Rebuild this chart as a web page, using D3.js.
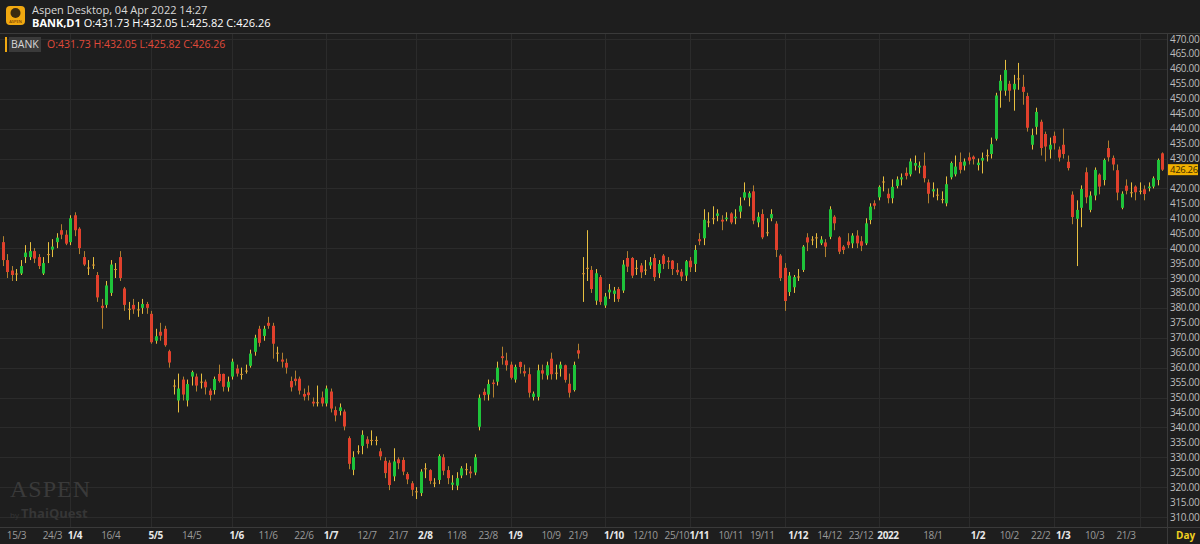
<!DOCTYPE html>
<html><head><meta charset="utf-8">
<script src="https://cdn.jsdelivr.net/npm/d3@7"></script>
<style>body{margin:0;background:#1e1e1e;overflow:hidden}svg{display:block}</style>
</head><body><svg id="c" width="1200" height="544"></svg>
<script>
// candles: [open, close, high, low]
const candles = [
[402,396,404,394],[396,392,398,390],[392.5,391,394,389],[391.5,391.5,393,389],[391.5,394,396,391],[397,398.5,401,395],[397,399,402,396],[399,396.5,400,395],[397,394,398,393],[391.5,395,397,391],[398,398,402,395],[399.5,400.5,403,397],[402,403.5,405,400],[406,404.5,408,403],[404.5,401.5,406,401],[402,410,411,401],[411,406,412,404],[406.5,400,407,398],[397,394.5,399,394],[393.5,393.5,396,391],[394.5,394.5,397,393],[391,383.5,392,382],[380.7,380,383,373],[381,387.5,389,380],[385,394.5,396,384],[393,393,395,390],[397,390,399,389],[386.5,381,387,379],[379.7,379.7,382,376],[381,379.5,383,378],[379.5,379.5,382,377],[380,381.3,383,378],[381.3,380,382,378],[378,368.5,379,368],[369,370.5,373,368],[372,370.7,375,369],[373,367.5,374,367],[365.5,361.7,366,360],[354,354,356,351],[349,353,358,345],[356,351,357,349],[349,354.5,356,347],[357,358.5,359,354],[357,354,358,352],
[355.3,355.3,358,353],[355.3,353.4,356,351],[352.3,350.8,353,349],[352.5,356.2,357,351],[357.9,355.5,361,355],[357.9,353.6,358,352],[353.4,355.3,357,352],[357,362,363,356],[359.7,358,361,357],[357.9,357.9,360,356],[359,359,361,358],[360.6,364.7,366,360],[365.3,370,371,364],[373,368.3,374,367],[370.6,373,374,369],[375,374,377,373],[374,368,375,363],[365,365,367,362],[362.7,362,365,360],[361.6,360,363,358],[355.5,353.4,357,352],[356.3,355.5,359,354],[356.3,352.3,357,351],[351.2,350.3,353,349],[351.7,350.8,354,349],[348.6,348,350,347],[348.4,348.4,354,347],[350,348,352,347],[348,353,354,347],[352,346.3,353,345],[345.8,344,347,342],[345.5,346.7,348,344],[345.3,340.3,346,339],[336.4,327.8,337,326],[325.8,330,332,324],[332,332,334,331],[333.8,337.5,339,331],[336,334.5,337,333],[335.8,335.8,339,334],[335.8,335.8,337,334],[332,330.3,333,329],[328.8,324.7,330,323],[328.2,320.7,329,319],[323.6,328.6,333,322],[329.3,328,330,326],
[329.1,325.2,330,324],[324.4,322.6,325,321],[321.3,319.1,322,317],[318.6,318.6,320,316],[318,325.2,326,317],[326.3,326.3,328,323],[325.7,322.1,326,321],[321.5,321.5,323,320],[322.4,330.4,331,321],[330,325.5,331,324],[325.7,323,327,321],[320.8,321.5,324,319],[320.5,323,325,319],[323.9,326.3,327,323],[326,326,328,324],[325.2,324.6,327,323],[324.9,330,331,324],[340.2,349.9,351,339],[351.9,350.8,353,349],[351,354.5,356,349],[355,354.5,356,350],[355.3,360,362,354],[363.8,363.2,367,361],[362.4,360.8,365,359],[361,356.6,362,356],[356,360.2,361,355],[361.9,360.2,362,358],[358.8,358.1,361,357],[357.8,351.6,360,350],[350.2,351.3,352,349],[350.2,359.1,361,349],[359.1,358,361,356],[357.4,360.8,362,356],[363,357.8,365,356],[358.3,358.3,361,356],[359.6,361,362,357],[360.8,355.9,361,355],[354.6,351.6,358,350],[352.5,360.9,362,352],[365.8,364.7,368,363],[391.6,391.6,397,382],[393.4,393.4,406,389],[392.7,386.3,394,385],[382.4,391.6,393,381],
[390.3,382,391,381],[380.8,383.8,385,380],[385.2,386.1,388,383],[384.7,385.8,387,382],[386.3,383,387,382],[385.8,394.5,396,385],[396.7,393.8,399,392],[396.7,390.8,397,390],[393.4,393.4,396,391],[394.2,391.9,395,390],[392.8,392.8,396,391],[394.2,395.3,397,393],[396.7,390.3,398,389],[391.6,394.7,396,390],[397.5,394.7,398,393],[395.8,395.3,397,393],[395.8,393,396,391],[392.7,391.9,395,391],[392.1,390.5,393,389],[390.8,395.6,396,389],[395.8,393.6,397,392],[394.7,399.4,401,392],[403,402.3,405,401],[403.3,409.5,413,401],[408.9,408.9,412,407],[410,410,414,408],[410.8,411.6,413,409],[409.5,408.9,411,406],[409.7,410.2,412,409],[411.6,408.6,412,408],[410,410.5,413,408],[412.2,414.2,417,410],[416.9,418.7,422,416],[416.9,418.4,419,414],[419,409.2,421,408],[408.6,410.5,412,407],[411.4,403.6,413,403],[405.3,405.3,410,404],[410,411.4,413,409],[408.2,399.4,409,397],[397.5,390,398,389],[393.4,382.3,395,379],[385.3,390.8,392,384],[386.9,390.3,391,385],[390.5,390.5,393,389],
[392.7,400.5,401,392],[403.6,401.9,405,399],[402.9,402.9,404,401],[403.6,403.6,405,400],[401.6,402.9,404,401],[401.9,400.5,403,397],[403.8,413,414,403],[410.5,408.3,411,406],[403.6,398.8,404,398],[400.5,399.4,401,398],[402.2,401,405,400],[401.6,404.2,405,400],[404.2,401.6,406,400],[402.3,400.8,404,399],[401.6,408.3,410,401],[409.4,413.9,415,408],[415,414.2,416,413],[417,420.5,421,416],[422.3,422.3,424,419],[418.2,416.7,420,415],[416.7,420.5,423,415],[420.8,423,424,420],[423,423.7,425,421],[425.2,424.2,427,423],[424.7,429,430,424],[427.6,428.5,431,426],[427,427.6,429,425],[427.6,423.4,432,422],[422,418.2,423,415],[419,419.7,422,417],[417.9,417.9,420,416],[416.4,416.4,419,415],[415,421.4,424,414],[423.7,428.5,429,423],[424.7,427.3,431,424],[428.8,426.2,432,425],[427.6,429,430,426],[430.4,429.3,432,428],[430.6,429.8,431,428],[427.8,428.6,430,426],
[429.3,430.2,432,425],[431.1,431.1,433,429],[431.5,434.8,437,430],[436.6,451.1,452,436],[452.7,456,458,447],[452.7,459.6,463,451],[455,452.7,456,449],[453.1,455,458,446],[456.8,456.8,462,453],[454,452.3,458,448],[450.9,440.3,452,439],[434.6,437.8,440,433],[440.6,445.6,447,438],[442.3,433.5,443,431],[438.2,434,439,429],[433,434.6,437,430],[437.6,435.1,439,433],[433,430.3,434,429],[434.6,431.5,440,430],[428.9,426.8,431,426],[417.9,410.4,419,408],[409.8,412.8,416,394],[413.5,419.8,421,407],[425.4,417,427,415],[412.8,417.6,419,412],[417.6,426.2,427,416],[424.6,420.6,425,418],[422.8,429.5,430,421],[433.5,430.4,436,429],[430.2,428,431,426],[426.1,418.6,428,416],[413.5,418.2,419,413],[420.9,419.2,423,418],[418.7,418.7,422,417],[420.6,418.7,421,416],[419.2,419.2,422,418],[419.7,418.1,421,416],[420.1,420.6,422,419],[420.6,423.4,424,420],[422.8,429.5,430,421],[431.73,426.26,432.05,425.82]
];
const tickLabels = ["15/3","24/3","1/4","16/4","5/5","14/5","1/6","11/6","22/6","1/7","12/7","21/7","2/8","11/8","23/8","1/9","10/9","21/9","1/10","12/10","25/10","1/11","10/11","19/11","1/12","14/12","23/12","2022","18/1","1/2","10/2","22/2","1/3","10/3","21/3"];
const tickIndex = [3,11,16,24,34,42,52,59,67,73,81,88,94,101,108,114,122,128,136,143,150,155,162,169,177,184,191,197,207,217,224,231,236,243,250];
const majorLabels = ["1/4","5/5","1/6","1/7","2/8","1/9","1/10","1/11","1/12","2022","1/2","1/3"];
const gridIndex = [15,33,51,72,92,113,134,153,174,195,215,234,253];
const priceTicks = d3.range(310,470.1,5);
const lastPrice = 426.26;

const svg = d3.select("#c");
const F = "'Open Sans', 'Noto Sans', sans-serif";
const x = d3.scaleLinear().domain([0,candles.length-1]).range([3,1162]);
const y = d3.scaleLinear().domain([310,470]).range([517,39]);
const plotR = 1167, plotT = 33, plotB = 527;

svg.append("rect").attr("width",1200).attr("height",544).attr("fill","#1e1e1e");
const g = svg.append("g");
g.selectAll(".hg").data(d3.range(310,470.1,10)).join("line")
 .attr("x1",0).attr("x2",plotR).attr("y1",d=>Math.round(y(d))+0.5).attr("y2",d=>Math.round(y(d))+0.5)
 .attr("stroke","#2b2b2b");
g.selectAll(".vg").data(gridIndex).join("line")
 .attr("x1",d=>Math.round(x(d))+0.5).attr("x2",d=>Math.round(x(d))+0.5).attr("y1",plotT).attr("y2",plotB)
 .attr("stroke","#2b2b2b");
svg.append("line").attr("x1",0).attr("x2",1200).attr("y1",plotT+0.5).attr("y2",plotT+0.5).attr("stroke","#3a3a3a");
svg.append("line").attr("x1",0).attr("x2",1200).attr("y1",plotB+0.5).attr("y2",plotB+0.5).attr("stroke","#3a3a3a");
svg.append("line").attr("x1",plotR+0.5).attr("x2",plotR+0.5).attr("y1",plotT).attr("y2",544).attr("stroke","#3a3a3a");

// watermark
svg.append("text").attr("x",10).attr("y",497).attr("font-family","Liberation Serif, serif").attr("font-size",24).attr("fill","#3a3a3a").attr("letter-spacing",1).text("ASPEN");
svg.append("text").attr("x",10).attr("y",518).attr("font-family",F).attr("fill","#363636").attr("font-size",13).attr("font-weight","bold")
 .html('<tspan font-size="8" font-weight="normal">by </tspan>ThaiQuest');

const cg = g.selectAll(".cd").data(candles).join("g");
cg.append("line").attr("x1",(d,i)=>Math.round(x(i))+0.5).attr("x2",(d,i)=>Math.round(x(i))+0.5)
 .attr("y1",d=>y(d[2])).attr("y2",d=>y(d[3])).attr("stroke",d=>d[1]>=d[0]?"#e8c040":"#b08030").attr("stroke-width",1);
cg.append("rect").attr("x",(d,i)=>Math.round(x(i))-1).attr("width",3)
 .attr("y",d=>y(Math.max(d[0],d[1]))).attr("height",d=>Math.max(1,Math.abs(y(d[0])-y(d[1]))))
 .attr("fill",d=>d[1]>d[0]?"#1ec43a":(d[1]<d[0]?"#e0402c":"#d08a30"));

svg.selectAll(".pt").data(priceTicks.filter(v=>Math.abs(v-lastPrice)>2.5)).join("text")
 .attr("x",1170).attr("y",d=>y(d)+3.5).attr("font-family",F).attr("font-size",10).attr("fill","#bdbdbd").attr("letter-spacing",-0.3)
 .text(d=>d.toFixed(2));
svg.append("rect").attr("x",1168).attr("y",y(lastPrice)-5.5).attr("width",30).attr("height",11).attr("fill","#f0b000");
svg.append("text").attr("x",1170).attr("y",y(lastPrice)+3.5).attr("font-family",F).attr("font-size",9.5).attr("fill","#3a2a00").attr("letter-spacing",-0.3).text(lastPrice.toFixed(2));

svg.selectAll(".tl").data(tickLabels).join("text")
 .attr("x",(d,i)=>x(tickIndex[i])).attr("y",539).attr("text-anchor","middle")
 .attr("font-family",F).attr("font-size",10).attr("letter-spacing",-0.4)
 .attr("font-weight",d=>majorLabels.includes(d)?"bold":"normal")
 .attr("fill",d=>majorLabels.includes(d)?"#e8e8e8":"#9a9a9a").text(d=>d);
svg.append("text").attr("x",1176).attr("y",539).attr("font-family",F).attr("font-size",10).attr("font-weight","bold").attr("fill","#f0d020").text("Day");

svg.append("rect").attr("x",6).attr("y",6).attr("width",19).attr("height",19).attr("rx",4).attr("fill","#f0a810");
svg.append("circle").attr("cx",15.5).attr("cy",13).attr("r",5).attr("fill","#3a2a10");
svg.append("text").attr("x",15.5).attr("y",23).attr("text-anchor","middle").attr("font-size",4).attr("fill","#5a1a00").attr("font-family",F).text("ASPEN");
svg.append("text").attr("x",32).attr("y",14).attr("font-family",F).attr("font-size",11).attr("fill","#d8d8d8").text("Aspen Desktop, 04 Apr 2022 14:27");
svg.append("text").attr("x",32).attr("y",27).attr("font-family",F).attr("font-size",11).attr("fill","#ffffff")
 .html('<tspan font-weight="bold">BANK,D1</tspan> O:431.73 H:432.05 L:425.82 C:426.26');
svg.append("rect").attr("x",5).attr("y",37).attr("width",2).attr("height",15).attr("fill","#f0a810");
svg.append("rect").attr("x",9).attr("y",37).attr("width",32).attr("height",15).attr("fill","#3a3a3a");
svg.append("text").attr("x",11).attr("y",48).attr("font-family",F).attr("font-size",10.5).attr("fill","#d8d8d8").text("BANK");
svg.append("text").attr("x",47).attr("y",48).attr("font-family",F).attr("font-size",10.5).attr("fill","#e04a3a").text("O:431.73  H:432.05  L:425.82  C:426.26");
</script></body></html>
